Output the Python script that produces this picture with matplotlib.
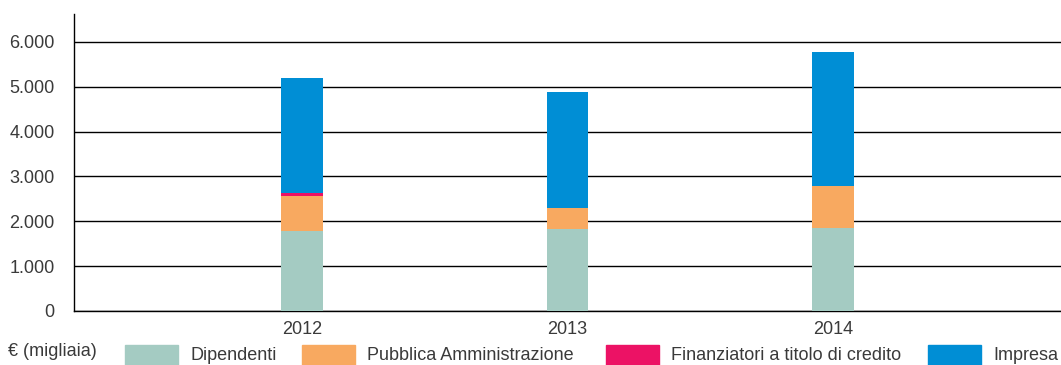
import matplotlib.pyplot as plt
from matplotlib.patches import Rectangle
import numpy as np

plt.rcParams['font.family'] = ['Liberation Sans', 'DejaVu Sans']

# Valore aggiunto distribuito (migliaia di euro)
years = ['2012', '2013', '2014']
dipendenti = [1785, 1830, 1860]
pubblica_amm = [780, 470, 935]
finanziatori = [60, 0, 0]
impresa = [2570, 2580, 2975]

series = [
    ('Dipendenti', dipendenti, '#a4cbc2'),
    ('Pubblica Amministrazione', pubblica_amm, '#f8a960'),
    ('Finanziatori a titolo di credito', finanziatori, '#ec1265'),
    ('Impresa', impresa, '#008ed5'),
]
y_ticks = [0, 1000, 2000, 3000, 4000, 5000, 6000]
y_labels = ['0', '1.000', '2.000', '3.000', '4.000', '5.000', '6.000']

text_color = '#3a3a3a'
fsize = 13

fig = plt.figure(figsize=(10.61, 3.65), dpi=100)
ax = fig.add_axes([0.0697, 0.148, 0.9303, 0.814])

x = np.arange(len(years))
bottom = np.zeros(len(years))
for name, vals, color in series:
    ax.bar(x, vals, width=0.158, bottom=bottom, color=color, zorder=3)
    bottom += np.array(vals)

ax.set_xlim(-0.86, 2.86)
ax.set_ylim(0, 6625)
ax.set_yticks(y_ticks)
ax.set_yticklabels(y_labels)
ax.set_xticks(x)
ax.set_xticklabels(years)
ax.tick_params(axis='both', length=0, colors=text_color, labelsize=fsize)
ax.tick_params(axis='y', pad=14)
ax.tick_params(axis='x', pad=7)
ax.grid(axis='y', color='black', linewidth=1, zorder=1)

for side in ['top', 'right']:
    ax.spines[side].set_visible(False)
ax.spines['left'].set_color('black')
ax.spines['bottom'].set_color('black')
ax.spines['left'].set_linewidth(1)
ax.spines['bottom'].set_linewidth(1)

# legenda in basso
fig.text(8 / 1061, 1 - 352 / 365, '€ (migliaia)', fontsize=fsize, color=text_color,
         va='center', ha='left')
patch_x = [125, 302, 606, 928]
for (name, vals, color), px in zip(series, patch_x):
    fig.add_artist(Rectangle((px / 1061, 0), 53 / 1061, 20 / 365,
                             transform=fig.transFigure, color=color))
    fig.text((px + 65) / 1061, 1 - 355 / 365, name, fontsize=fsize, color=text_color,
             va='center', ha='left')

fig.savefig('out.png', dpi=100)
